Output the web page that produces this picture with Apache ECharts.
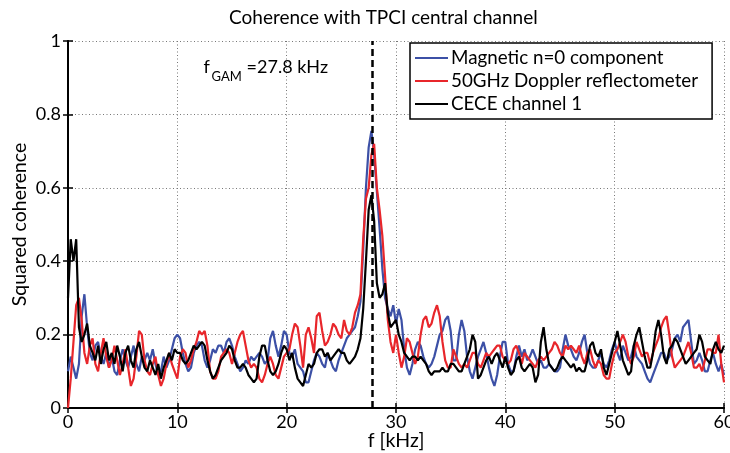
<!DOCTYPE html>
<html>
<head>
<meta charset="utf-8">
<script src="https://cdn.jsdelivr.net/npm/echarts@6/dist/echarts.min.js"></script>
<style>
html,body{margin:0;padding:0;background:#fff;}
#chart{width:730px;height:453px;}
</style>
</head>
<body>
<div id="chart"></div>
<script>
// ---- data ----
const titleText = 'Coherence with TPCI central channel';
const xName = 'f [kHz]';
const yName = 'Squared coherence';
const fGAM = 27.8;
const fStep = 0.25; // frequency resolution of the spectra, kHz
const xTicks = [0, 10, 20, 30, 40, 50, 60];
const yTicks = [0, 0.2, 0.4, 0.6, 0.8, 1];
const seriesNames = ['Magnetic n=0 component', '50GHz Doppler reflectometer', 'CECE channel 1'];

const magnetic = [
  0.10,0.14,0.11,0.08,0.12,0.25,0.31,0.22,0.15,0.13, 0.17,0.18,0.14,0.12,0.15,0.11,0.14,0.10,0.09,0.13,
  0.16,0.13,0.11,0.14,0.17,0.12,0.10,0.14,0.13,0.15, 0.13,0.16,0.12,0.09,0.10,0.14,0.11,0.13,0.16,0.19, 0.20,
  0.19,0.15,0.12,0.10,0.11,0.15,0.17,0.18,0.17,0.13, 0.11,0.13,0.16,0.15,0.17,0.17,0.15,0.18,0.19,0.17,
  0.14,0.12,0.10,0.11,0.13,0.12,0.14,0.13,0.14,0.15, 0.14,0.12,0.13,0.19,0.21,0.17,0.14,0.17,0.21,0.20,
  0.15,0.14,0.16,0.12,0.11,0.10,0.07,0.07,0.10,0.13, 0.15,0.14,0.12,0.11,0.15,0.13,0.11,0.10,0.13,0.15,
  0.17,0.19,0.20,0.21,0.22,0.25,0.29,0.43,0.60,0.71, 0.755,0.69,0.59,0.49,0.38,0.30,0.27,0.25,0.28,0.23,
  0.27,0.24,0.16,0.11,0.09,0.12,0.16,0.18,0.17,0.14, 0.12,0.11,0.12,0.14,0.17,0.20,0.21,0.24,0.25,0.21,
  0.13,0.13,0.20,0.24,0.21,0.14,0.10,0.08,0.11,0.14, 0.16,0.18,0.15,0.11,0.08,0.06,0.09,0.14,0.18,0.18,
  0.12,0.10,0.10,0.14,0.17,0.14,0.16,0.13,0.14,0.16, 0.14,0.12,0.13,0.11,0.11,0.12,0.11,0.10,0.10,0.11,
  0.16,0.20,0.17,0.16,0.14,0.13,0.15,0.18,0.20,0.15, 0.12,0.11,0.11,0.13,0.15,0.12,0.11,0.13,0.16,0.18,
  0.15,0.13,0.17,0.15,0.13,0.14,0.17,0.14,0.13,0.12, 0.10,0.08,0.07,0.09,0.11,0.13,0.15,0.15,0.13,0.14,
  0.16,0.19,0.20,0.18,0.22,0.23,0.24,0.18,0.12,0.13, 0.15,0.13,0.10,0.10,0.13,0.15,0.12,0.10,0.12,0.09
];
const doppler = [
  0.00,0.08,0.18,0.28,0.30,0.24,0.15,0.12,0.17,0.19, 0.12,0.10,0.15,0.19,0.14,0.11,0.13,0.17,0.13,0.09,
  0.12,0.16,0.11,0.06,0.08,0.14,0.21,0.20,0.13,0.10, 0.09,0.12,0.14,0.09,0.06,0.08,0.12,0.15,0.12,0.10, 0.08,
  0.14,0.16,0.15,0.11,0.13,0.16,0.18,0.21,0.20,0.21, 0.17,0.10,0.08,0.08,0.10,0.14,0.15,0.16,0.15,0.12,
  0.15,0.18,0.20,0.21,0.17,0.13,0.11,0.12,0.11,0.08, 0.07,0.09,0.12,0.14,0.12,0.09,0.08,0.11,0.14,0.15,
  0.16,0.20,0.23,0.22,0.17,0.11,0.20,0.22,0.19,0.15, 0.25,0.26,0.21,0.17,0.18,0.20,0.23,0.22,0.20,0.19,
  0.24,0.21,0.20,0.22,0.26,0.28,0.31,0.46,0.57,0.60, 0.69,0.72,0.60,0.54,0.47,0.36,0.24,0.18,0.15,0.20,
  0.15,0.11,0.14,0.19,0.18,0.15,0.12,0.14,0.20,0.24, 0.25,0.22,0.23,0.26,0.28,0.25,0.18,0.13,0.11,0.11,
  0.16,0.14,0.12,0.11,0.12,0.11,0.13,0.15,0.15,0.12, 0.11,0.13,0.15,0.14,0.15,0.16,0.17,0.17,0.14,0.13,
  0.12,0.13,0.16,0.17,0.15,0.12,0.15,0.14,0.13,0.12, 0.11,0.13,0.14,0.13,0.14,0.15,0.16,0.18,0.17,0.15,
  0.14,0.17,0.16,0.17,0.16,0.15,0.17,0.14,0.12,0.15, 0.16,0.13,0.11,0.13,0.12,0.09,0.08,0.08,0.12,0.15,
  0.16,0.18,0.20,0.18,0.14,0.12,0.14,0.18,0.16,0.14, 0.15,0.15,0.12,0.15,0.17,0.19,0.22,0.24,0.25,0.20,
  0.14,0.11,0.12,0.13,0.14,0.16,0.18,0.15,0.11,0.11, 0.12,0.10,0.13,0.16,0.16,0.15,0.15,0.20,0.12,0.07
];
const cece = [
  0.30,0.46,0.40,0.46,0.22,0.18,0.20,0.23,0.17,0.15, 0.13,0.17,0.12,0.16,0.18,0.13,0.15,0.12,0.17,0.14,
  0.10,0.15,0.17,0.13,0.11,0.16,0.18,0.14,0.11,0.10, 0.13,0.11,0.09,0.12,0.08,0.11,0.13,0.15,0.13,0.16, 0.15,
  0.15,0.13,0.12,0.13,0.15,0.17,0.16,0.17,0.18,0.17, 0.13,0.10,0.08,0.09,0.11,0.13,0.14,0.15,0.17,0.16,
  0.13,0.11,0.11,0.12,0.11,0.09,0.08,0.07,0.08,0.14, 0.17,0.17,0.13,0.10,0.09,0.10,0.12,0.15,0.17,0.16,
  0.13,0.15,0.11,0.08,0.07,0.06,0.09,0.12,0.11,0.12, 0.15,0.16,0.16,0.14,0.15,0.13,0.14,0.15,0.16,0.15,
  0.15,0.13,0.12,0.13,0.14,0.16,0.19,0.27,0.40,0.54, 0.58,0.51,0.34,0.30,0.31,0.34,0.26,0.22,0.23,0.24,
  0.20,0.18,0.15,0.14,0.13,0.14,0.14,0.13,0.14,0.13, 0.12,0.10,0.09,0.10,0.10,0.10,0.11,0.10,0.10,0.12,
  0.12,0.11,0.10,0.10,0.12,0.14,0.16,0.20,0.18,0.08, 0.09,0.11,0.13,0.14,0.12,0.14,0.15,0.13,0.11,0.14,
  0.11,0.09,0.10,0.13,0.14,0.11,0.10,0.11,0.12,0.11, 0.07,0.09,0.18,0.22,0.16,0.12,0.11,0.10,0.11,0.13,
  0.14,0.13,0.12,0.11,0.12,0.10,0.11,0.10,0.10,0.13, 0.17,0.18,0.15,0.14,0.16,0.11,0.09,0.12,0.15,0.18,
  0.21,0.17,0.13,0.11,0.09,0.10,0.17,0.20,0.22,0.18, 0.14,0.11,0.11,0.15,0.21,0.24,0.20,0.14,0.12,0.16,
  0.17,0.19,0.18,0.16,0.14,0.12,0.13,0.14,0.15,0.16, 0.20,0.18,0.14,0.13,0.12,0.16,0.18,0.16,0.15,0.17
];

// ---- chart ----
const FONT = 'Lato';
const colors = ['#3c50a6', '#e8262b', '#000000'];
const toPairs = arr => arr.map((v, i) => [i * fStep, v]);

const chart = echarts.init(document.getElementById('chart'), null, {renderer: 'canvas'});

const axisCommon = {
  min: 0,
  axisLine: {show: true, lineStyle: {color: '#000', width: 2}},
  axisTick: {show: true, inside: true, length: 5, lineStyle: {color: '#000', width: 1.5}},
  splitLine: {show: false}
};

const option = {
  animation: false,
  backgroundColor: '#fff',
  textStyle: {fontFamily: FONT},
  title: {
    text: titleText,
    left: 224, top: 3,
    textStyle: {fontFamily: FONT, fontSize: 19, fontWeight: 'normal', color: '#000'}
  },
  grid: {left: 68, right: 6, top: 41, bottom: 45, containLabel: false, outerBoundsMode: 'none'},
  legend: {
    data: seriesNames,
    orient: 'vertical',
    left: 410, top: 43,
    icon: 'rect',
    itemWidth: 33, itemHeight: 2,
    itemGap: 3,
    padding: [5, 14, 5, 5],
    backgroundColor: '#fff',
    borderColor: '#000',
    borderWidth: 1.5,
    borderRadius: 0,
    textStyle: {fontFamily: FONT, fontSize: 18.8, color: '#000', lineHeight: 20, padding: [0, 0, 0, -2]}
  },
  xAxis: [
    Object.assign({}, axisCommon, {
      type: 'value', position: 'bottom', max: 60, interval: 10,
      name: xName, nameLocation: 'middle', nameGap: 23, nameMoveOverlap: false,
      nameTextStyle: {fontFamily: FONT, fontSize: 19.5, color: '#000'},
      axisLabel: {fontFamily: FONT, fontSize: 18, color: '#000', margin: 5,
        formatter: v => (xTicks.indexOf(v) >= 0 ? String(v) : '')},
      splitLine: {show: true, lineStyle: {color: '#777', type: [1, 2.5], width: 1}}
    }),
    Object.assign({}, axisCommon, {
      type: 'value', position: 'top', max: 60, interval: 10,
      axisLabel: {show: false}
    })
  ],
  yAxis: [
    Object.assign({}, axisCommon, {
      type: 'value', position: 'left', max: 1, interval: 0.2,
      name: yName, nameLocation: 'middle', nameGap: 38, nameMoveOverlap: false,
      nameTextStyle: {fontFamily: FONT, fontSize: 19.5, color: '#000'},
      axisLabel: {fontFamily: FONT, fontSize: 18, color: '#000', margin: 7,
        formatter: v => { const t = yTicks.find(k => Math.abs(k - v) < 1e-9); return t === undefined ? '' : String(t); }},
      splitLine: {show: true, lineStyle: {color: '#777', type: [1, 2.5], width: 1}}
    }),
    Object.assign({}, axisCommon, {
      type: 'value', position: 'right', max: 1, interval: 0.2,
      axisLabel: {show: false}
    })
  ],
  series: [
    {name: seriesNames[0], type: 'line', data: toPairs(magnetic), showSymbol: false, symbol: 'none',
     lineStyle: {color: colors[0], width: 2.2}, itemStyle: {color: colors[0]}, z: 2},
    {name: seriesNames[1], type: 'line', data: toPairs(doppler), showSymbol: false, symbol: 'none',
     lineStyle: {color: colors[1], width: 2.2}, itemStyle: {color: colors[1]}, z: 3},
    {name: seriesNames[2], type: 'line', data: toPairs(cece), showSymbol: false, symbol: 'none',
     lineStyle: {color: colors[2], width: 2.2}, itemStyle: {color: colors[2]}, z: 4,
     markLine: {
       silent: true, symbol: ['none', 'none'], label: {show: false},
       lineStyle: {color: '#000', width: 2.5, type: [7, 4]},
       data: [{xAxis: fGAM}]
     }}
  ]
};
chart.setOption(option);

// annotation anchored in data coordinates
const p = chart.convertToPixel({xAxisIndex: 0, yAxisIndex: 0}, [12.4, 0.905]);
chart.setOption({
  graphic: [
    {type: 'text', x: p[0], y: p[1], style: {text: 'f', font: '18px ' + FONT, fill: '#000', textVerticalAlign: 'bottom'}},
    {type: 'text', x: p[0] + 8, y: p[1] + 7, style: {text: 'GAM', font: '13px ' + FONT, fill: '#000', textVerticalAlign: 'bottom'}},
    {type: 'text', x: p[0] + 43, y: p[1], style: {text: '=' + fGAM + ' kHz', font: '18px ' + FONT, fill: '#000', textVerticalAlign: 'bottom'}}
  ]
});
</script>
</body>
</html>
